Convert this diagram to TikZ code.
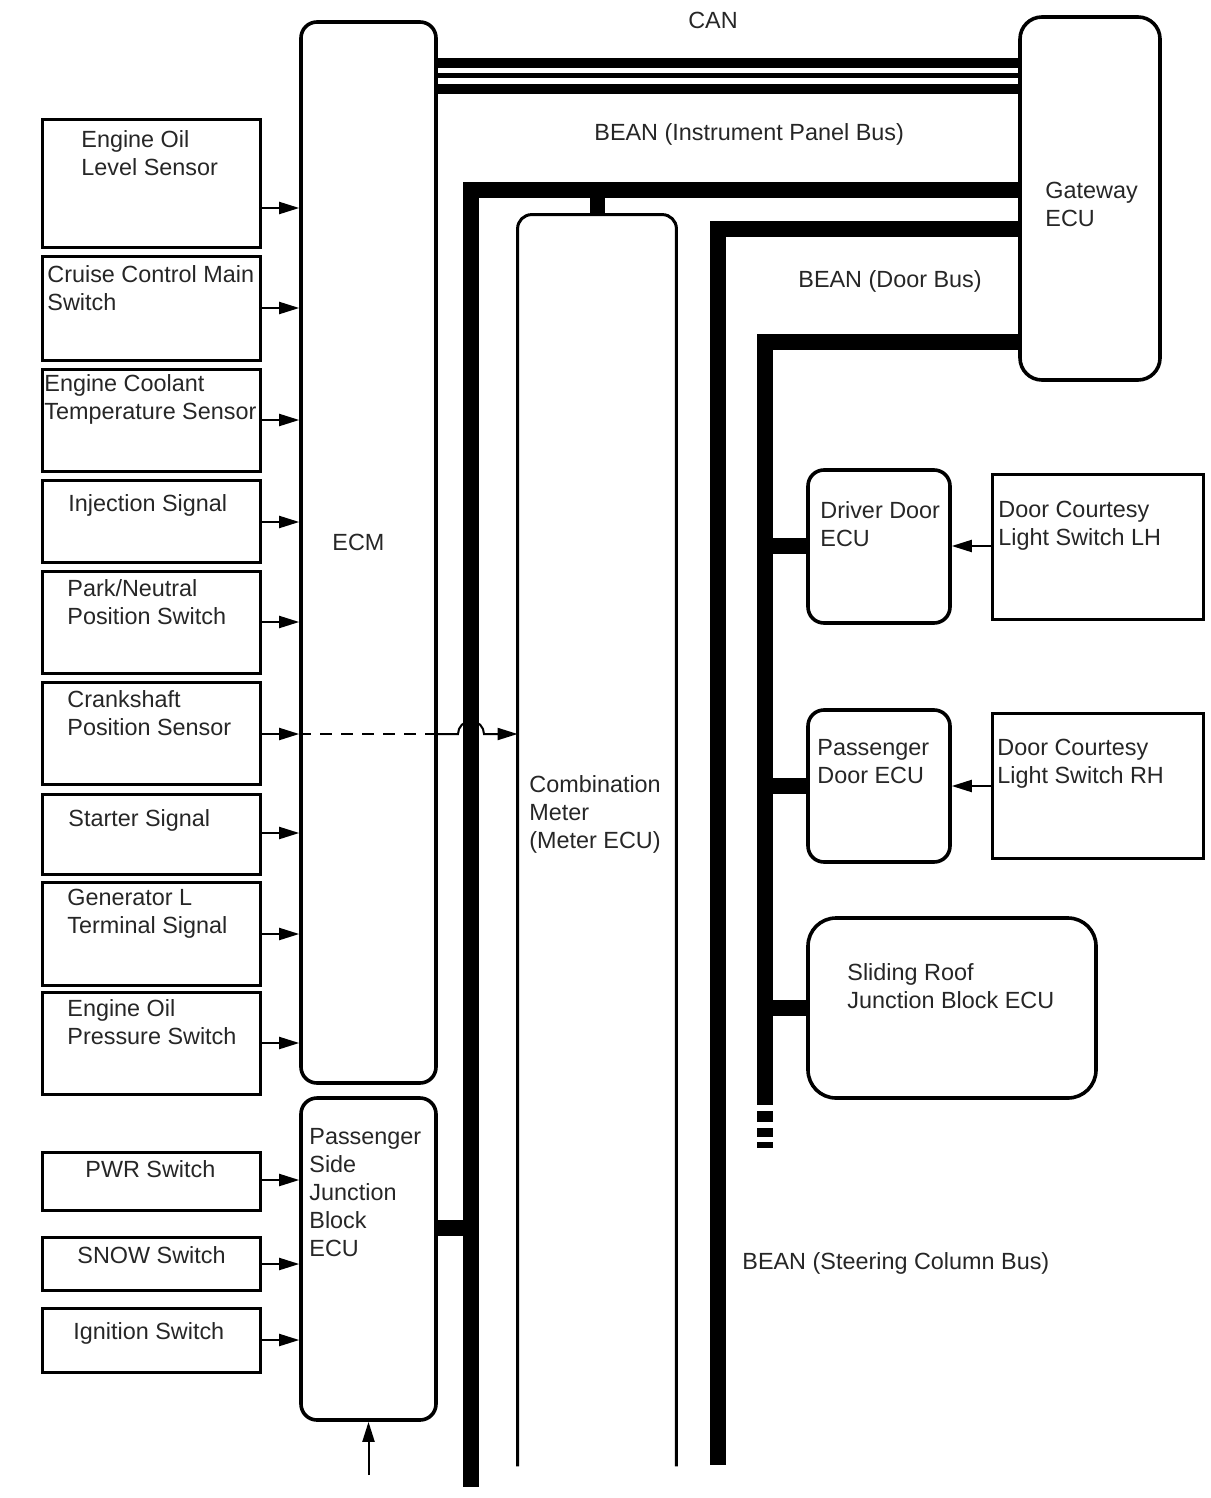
\documentclass[tikz,border=0pt]{standalone}
\usepackage{fontspec}
\setmainfont{Liberation Sans}
\usetikzlibrary{arrows.meta,fit}
\begin{document}
\begin{tikzpicture}[x=0.5pt,y=-0.5pt,
  lbox/.style={draw, line width=1.5pt, inner sep=0pt},
  rbox/.style={draw, line width=1.8pt, inner sep=0pt, rounded corners=#1},
  rbox/.default=8pt,
  txt/.style={anchor=north west, inner sep=0pt, align=left, font=\fontsize{11.7}{14}\selectfont, text=black!85},
  arr/.style={line width=1pt, -{Triangle[length=10pt,width=6pt]}},
  bus/.style={line width=8pt, line join=miter, line cap=butt},
  canthick/.style={line width=5pt},
  canthin/.style={line width=2.5pt},
  dashline/.style={line width=1pt, dash pattern=on 6pt off 4.5pt}
]
\useasboundingbox (0,0) rectangle (1210,1498);

% main ECUs
\node[rbox, fit={(301,22) (436,1083)}] (ECM) {};
\node[rbox, fit={(301,1098) (436,1420)}] (PS) {};
\node[rbox=11pt, fit={(1020,17) (1160,380)}] (GW) {};
\node[inner sep=0pt, fit={(518,215) (676,1466)}] (CM) {};
\draw[line width=1.5pt, rounded corners=7pt] (CM.south west) -- (CM.north west) -- (CM.north east) -- (CM.south east);
\node[rbox, fit={(808,470) (950,623)}] (DD) {};
\node[rbox, fit={(808,710) (950,862)}] (PD) {};
\node[rbox=14pt, fit={(808,918) (1096,1098)}] (SR) {};
\node[lbox, fit={(992,474) (1203,619)}] (LH) {};
\node[lbox, fit={(992,713) (1203,858)}] (RH) {};

% left inputs
\node[lbox, fit={(42,120) (260,248)}] (b1) {};
\node[lbox, fit={(42,257) (260,360)}] (b2) {};
\node[lbox, fit={(42,369) (260,471)}] (b3) {};
\node[lbox, fit={(42,480) (260,562)}] (b4) {};
\node[lbox, fit={(42,571) (260,673)}] (b5) {};
\node[lbox, fit={(42,682) (260,784)}] (b6) {};
\node[lbox, fit={(42,794) (260,874)}] (b7) {};
\node[lbox, fit={(42,882) (260,985)}] (b8) {};
\node[lbox, fit={(42,992) (260,1094)}] (b9) {};
\node[lbox, fit={(42,1152) (260,1210)}] (b10) {};
\node[lbox, fit={(42,1237) (260,1290)}] (b11) {};
\node[lbox, fit={(42,1308) (260,1372)}] (b12) {};

% free ends
\coordinate (ipEnd) at (471,1487);
\coordinate (doorEnd) at (718,1465);
\coordinate (stEnd) at (765,1105);
\coordinate (ignIn) at (368.5,1475);

% CAN
\draw[canthick] (ECM.east |- 0,63) -- (GW.west |- 0,63);
\draw[canthin] (ECM.east |- 0,76) -- (GW.west |- 0,76);
\draw[canthick] (ECM.east |- 0,89) -- (GW.west |- 0,89);

% BEAN buses
\draw[bus] (GW.west |- 0,190) -| (ipEnd);
\draw[line width=7.5pt] (CM.north |- 0,194) -- (CM.north);
\draw[bus] (PS.east |- 0,1228) -- (ipEnd |- 0,1228);
\draw[bus] (GW.west |- 0,229) -| (doorEnd);
\draw[bus] (GW.west |- 0,342) -| (stEnd);
\draw[bus] (765,1111) -- (765,1122);
\draw[bus] (765,1128) -- (765,1137);
\draw[bus] (765,1142) -- (765,1148);
\draw[bus] (stEnd |- 0,546) -- (DD.west |- 0,546);
\draw[bus] (stEnd |- 0,786) -- (PD.west |- 0,786);
\draw[bus] (stEnd |- 0,1008) -- (SR.west |- 0,1008);

% input arrows
\draw[arr] (b1.east |- 0,208) -- (ECM.west |- 0,208);
\draw[arr] (b2.east |- 0,308) -- (ECM.west |- 0,308);
\draw[arr] (b3.east |- 0,420) -- (ECM.west |- 0,420);
\draw[arr] (b4.east |- 0,522) -- (ECM.west |- 0,522);
\draw[arr] (b5.east |- 0,622) -- (ECM.west |- 0,622);
\draw[arr] (b6.east |- 0,734) -- (ECM.west |- 0,734);
\draw[arr] (b7.east |- 0,833) -- (ECM.west |- 0,833);
\draw[arr] (b8.east |- 0,934) -- (ECM.west |- 0,934);
\draw[arr] (b9.east |- 0,1043) -- (ECM.west |- 0,1043);
\draw[arr] (b10.east |- 0,1180) -- (PS.west |- 0,1180);
\draw[arr] (b11.east |- 0,1264) -- (PS.west |- 0,1264);
\draw[arr] (b12.east |- 0,1340) -- (PS.west |- 0,1340);
\draw[arr] (ignIn) -- (PS.south);
\draw[arr] (LH.west |- 0,546) -- (DD.east |- 0,546);
\draw[arr] (RH.west |- 0,786) -- (PD.east |- 0,786);

% crankshaft signal to meter
\draw[dashline] (ECM.west |- 0,734) -- (ECM.east |- 0,734);
\draw[arr] (ECM.east |- 0,734) -- (458,734) arc[start angle=180, end angle=0, radius=6.5pt] -- (CM.west |- 0,734);

% texts
\node[txt, anchor=north] (tcan) at (713,12) {CAN};
\node[txt] (tip) at (594,123) {BEAN (Instrument Panel Bus)};
\node[txt] (tgw) at (1045,182) {Gateway\\ECU};
\node[txt] (tdoor) at (798,270) {BEAN (Door Bus)};
\node[txt] (tst) at (742,1252) {BEAN (Steering Column Bus)};
\node[txt] (t1) at (81,130) {Engine Oil\\Level Sensor};
\node[txt] (t2) at (47,265) {Cruise Control Main\\Switch};
\node[txt] (t3) at (44,374) {Engine Coolant\\Temperature Sensor};
\node[txt] (t4) at (68,494) {Injection Signal};
\node[txt] (t5) at (67,579) {Park/Neutral\\Position Switch};
\node[txt] (t6) at (67,690) {Crankshaft\\Position Sensor};
\node[txt] (t7) at (68,809) {Starter Signal};
\node[txt] (t8) at (67,889) {Generator L\\Terminal Signal};
\node[txt] (t9) at (67,999) {Engine Oil\\Pressure Switch};
\node[txt] (t10) at (85,1160) {PWR Switch};
\node[txt] (t11) at (77,1246) {SNOW Switch};
\node[txt] (t12) at (73,1322) {Ignition Switch};
\node[txt] (tecm) at (332,534) {ECM};
\node[txt] (tps) at (309,1128) {Passenger\\Side\\Junction\\Block\\ECU};
\node[txt] (tcm) at (529,775) {Combination\\Meter\\(Meter ECU)};
\node[txt] (tdd) at (820,501) {Driver Door\\ECU};
\node[txt] (tlh) at (998,501) {Door Courtesy\\Light Switch LH};
\node[txt] (tpd) at (817,739) {Passenger\\Door ECU};
\node[txt] (trh) at (997,739) {Door Courtesy\\Light Switch RH};
\node[txt] (tsr) at (847,963) {Sliding Roof\\Junction Block ECU};
\end{tikzpicture}
\end{document}
